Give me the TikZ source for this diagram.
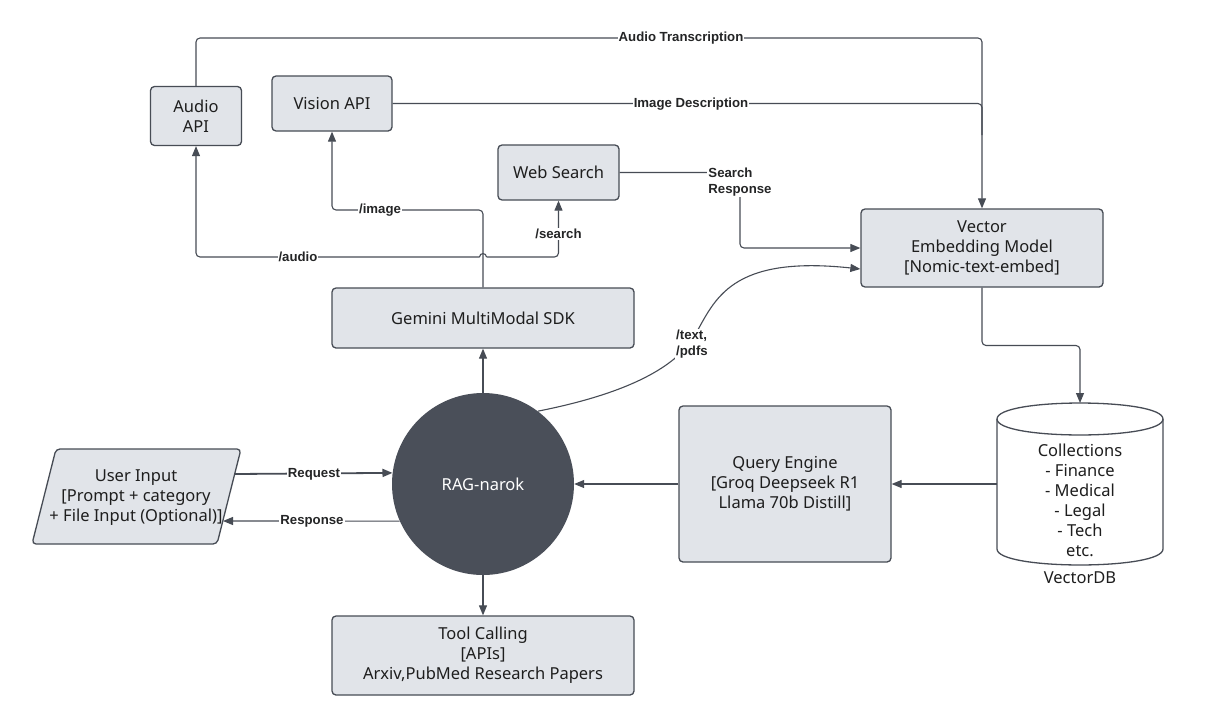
\documentclass[tikz,border=0pt]{standalone}
\usepackage{fontspec}
\setmainfont{Noto Sans}
\newfontfamily\lblfont{Liberation Sans}
\usetikzlibrary{arrows.meta,calc}
\definecolor{linec}{HTML}{474C55}
\definecolor{boxf}{HTML}{E1E4E9}
\definecolor{ragf}{HTML}{4A4F59}
\definecolor{txt}{HTML}{1E1E1E}
\begin{document}
\begin{tikzpicture}[x=1pt,y=-1pt,
 box/.style={draw=linec, fill=boxf, line width=1.3pt, rounded corners=4pt, inner sep=0pt, align=center, font=\fontsize{16.5}{20}\selectfont, text=txt},
 plain/.style={inner sep=0pt, align=center, font=\fontsize{16.5}{20}\selectfont, text=txt},
 conn/.style={draw=linec, line width=1.1pt, rounded corners=4pt},
 arr/.style={conn, -{Triangle[length=10pt,width=8pt]}},
 lbl/.style={fill=white, inner sep=1pt, font=\lblfont\bfseries\fontsize{13.2}{16}\selectfont, text=txt!85!linec}]
\useasboundingbox (0,0) rectangle (1208,726);
\fill[white] (0,0) rectangle (1208,726);

% boxes
\node[box, minimum width=91pt, minimum height=59pt] (audio) at (196,116) {Audio\\API};
\node[box, minimum width=120pt, minimum height=55pt] (vision) at (332,103.5) {Vision API};
\node[box, minimum width=121pt, minimum height=55pt] (web) at (558.5,172.5) {Web Search};
\node[box, minimum width=302pt, minimum height=60pt] (gem) at (483,318) {Gemini MultiModal SDK};
\node[box, minimum width=242pt, minimum height=78pt] (vec) at (982,248) {Vector\\Embedding Model\\{[Nomic-text-embed]}};
\node[box, minimum width=212pt, minimum height=156pt] (query) at (785,484) {Query Engine\\{[Groq Deepseek R1}\\Llama 70b Distill]};
\node[box, minimum width=302pt, minimum height=79pt] (tool) at (483,655.5) {Tool Calling\\{[APIs]}\\Arxiv,PubMed Research Papers};
\node[circle, fill=ragf, minimum size=182pt, inner sep=0pt, text=white, font=\fontsize{16.5}{20}\selectfont] (rag) at (483,484) {RAG-narok};

% user input parallelogram
\draw[draw=linec, fill=boxf, line width=1.3pt, rounded corners=4pt] (56,449) -- (241,449) -- (217,544) -- (32,544) -- cycle;
\node[plain] (user) at (136,498) {User Input\\{[Prompt + category}\\+ File Input (Optional)]};

% cylinder
\path[fill=white, draw=linec, line width=1.3pt] (997,419) -- (997,549) .. controls (997,570.3) and (1163,570.3) .. (1163,549) -- (1163,419) .. controls (1163,397.7) and (997,397.7) .. (997,419) -- cycle;
\draw[draw=linec, line width=1.3pt] (997,419) .. controls (997,440.3) and (1163,440.3) .. (1163,419);
\node[minimum width=166pt, minimum height=162pt, inner sep=0pt] (db) at (1080,484) {};
\node[plain] (dbtext) at (1080,500.5) {Collections\\- Finance\\- Medical\\- Legal\\- Tech\\etc.};
\node[plain] (dblabel) at (1080,578) {VectorDB};
\coordinate (dbtop) at (1080,403);
\coordinate (dbwest) at (997,484);

% connectors
\draw[arr] (audio.north) -- (196,38) -| (vec.north);
\node[lbl] at (681,38) {Audio Transcription};
\draw[conn] (vision.east) -| (982,135);
\node[lbl] at (691,104) {Image Description};

\draw[arr] (gem.north) |- (332,210) -- (vision.south);
\node[lbl] at (380,210) {/image};
\coordinate (hopL) at (479.5,257);
\coordinate (hopR) at (486.5,257);
\draw[conn] (hopL) .. controls (479.5,252.5) and (486.5,252.5) .. (hopR);
\draw[arr] (hopL) -| (audio.south);
\node[lbl] at (298,257) {/audio};
\draw[arr] (hopR) -| (web.south);
\node[lbl] at (558.5,234) {/search};

\draw[arr] (web.east) -- (740,172.5) |- (vec.west);
\node[lbl, align=left] at (740,182) {Search\\Response};

\draw[arr] (vec.south) |- (1080,345.5) -- (dbtop);
\draw[arr] (dbwest) -- (query.east);
\draw[arr] (query.west) -- (rag.east);
\draw[arr] (rag.north) -- (gem.south);
\draw[arr] (rag.south) -- (tool.north);

\coordinate (ureq) at (235,474);
\coordinate (uresp) at (223,521);
\draw[arr, line width=1.8pt] (ureq) -- (rag.173.7);
\node[lbl] at (314,474) {Request};
\draw[arr] (rag.204) -- (uresp);
\node[lbl] at (312,521) {Response};

\draw[arr, rounded corners=0pt] (rag.53) .. controls (620,395) and (675,370) .. (695,335) .. controls (715,300) and (730,255) .. ($(vec.west)+(0,21)$);
\node[lbl, align=left] at (692,344) {/text,\\/pdfs};
\end{tikzpicture}
\end{document}
